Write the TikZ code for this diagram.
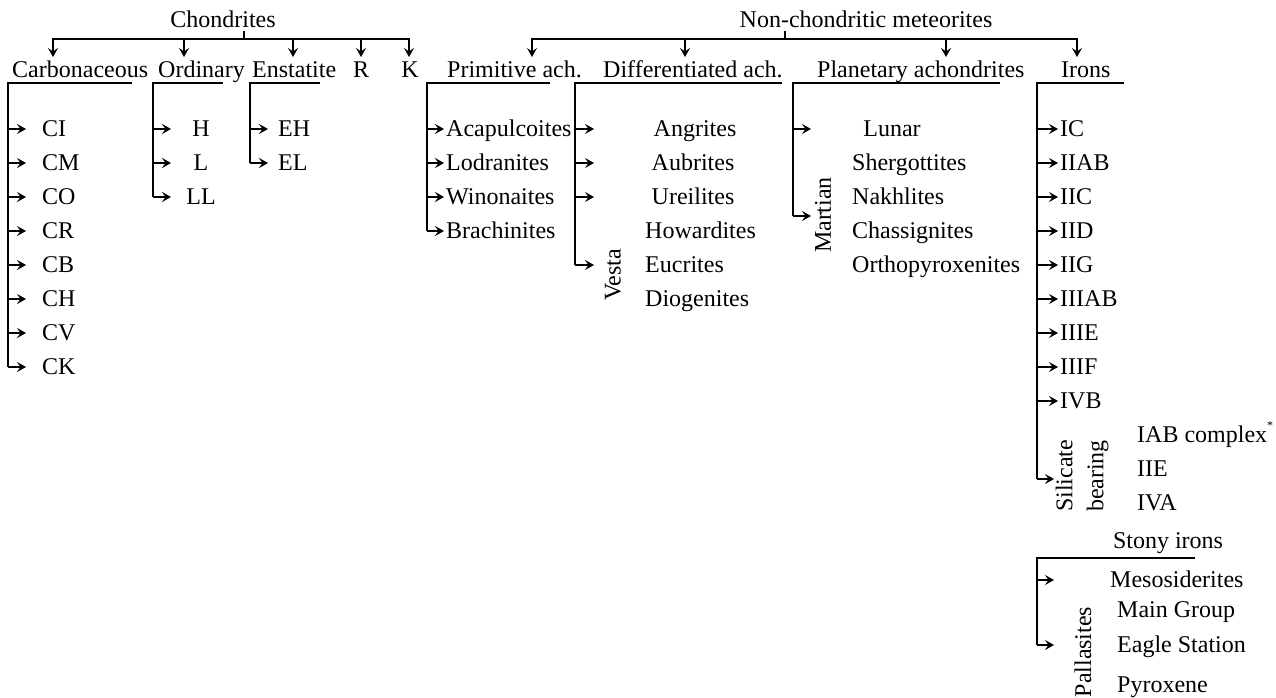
\documentclass[tikz,border=0pt]{standalone}
\usepackage{fontspec}
\setmainfont{Liberation Serif}
\usetikzlibrary{arrows.meta}
\begin{document}
\begin{tikzpicture}[x=1pt,y=-1pt,
  font=\fontsize{24}{31}\selectfont,
  lbl/.style={inner sep=0pt, anchor=base west},
  lblc/.style={inner sep=0pt, anchor=base},
  rot/.style={inner sep=0pt, rotate=90, align=center},
  ln/.style={line width=2.6pt, line join=miter},
  ul/.style={line width=2.2pt, line join=miter},
  arr/.style={line width=2.6pt, -{Stealth[length=9pt,width=10pt,inset=3.5pt]}}]
\useasboundingbox (0,0) rectangle (1276,698);

% ---------- top level ----------
\node[lblc] (chond) at (223,28) {Chondrites};
\coordinate (chb) at (244,39);
\draw[ln] (chb) ++(0,-8) -- (chb);
\draw[ln] (53,39) -- (409,39);
\foreach \x in {53,184,293,361,409} \draw[arr] (\x,38) -- (\x,57);

\node[lblc] (nonch) at (866,28) {Non-chondritic meteorites};
\coordinate (ncb) at (785,39);
\draw[ln] (ncb) ++(0,-8) -- (ncb);
\draw[ln] (532,39) -- (1077,39);
\foreach \x in {532,685,946,1077} \draw[arr] (\x,38) -- (\x,57);

% ---------- second level labels ----------
\node[lbl] (carb) at (12,78) {Carbonaceous};
\node[lbl] (ord) at (158,78) {Ordinary};
\node[lbl] (enst) at (252,78) {Enstatite};
\node[lblc] (R) at (361,78) {R};
\node[lblc] (K) at (410,78) {K};
\node[lbl] (prim) at (447,78) {Primitive ach.};
\node[lbl] (diff) at (603,78) {Differentiated ach.};
\node[lbl] (plan) at (817,78) {Planetary achondrites};
\node[lbl] (irons) at (1061,78) {Irons};

% ---------- Carbonaceous ----------
\draw[ul] (132,83) -- (8,83) -- (8,367);
\foreach \t/\y in {CI/129,CM/163,CO/197,CR/231,CB/265,CH/299,CV/333,CK/367} {
  \node[lbl] (c-\t) at (42,\y+7.5) {\t};
  \draw[arr] (8,\y) -- (26,\y);
}

% ---------- Ordinary ----------
\draw[ul] (223,83) -- (153,83) -- (153,197);
\foreach \t/\y in {H/129,L/163,LL/197} {
  \node[lblc] (o-\t) at (201,\y+7.5) {\t};
  \draw[arr] (153,\y) -- (171,\y);
}

% ---------- Enstatite ----------
\draw[ul] (320,83) -- (250,83) -- (250,163);
\foreach \t/\y in {EH/129,EL/163} {
  \node[lbl] (e-\t) at (278,\y+7.5) {\t};
  \draw[arr] (250,\y) -- (268,\y);
}

% ---------- Primitive achondrites ----------
\draw[ul] (550,83) -- (427,83) -- (427,231);
\foreach \t/\y in {Acapulcoites/129,Lodranites/163,Winonaites/197,Brachinites/231} {
  \node[lbl] (p-\t) at (446,\y+7.5) {\t};
  \draw[arr] (427,\y) -- (444,\y);
}

% ---------- Differentiated achondrites ----------
\draw[ul] (782,83) -- (575,83) -- (575,265);
\node[lblc] (angr) at (695,136.5) {Angrites};
\node[lblc] (aubr) at (693,170.5) {Aubrites};
\node[lblc] (ureil) at (693,204.5) {Ureilites};
\node[lbl] (howa) at (645,238.5) {Howardites};
\node[lbl] (eucr) at (645,272.5) {Eucrites};
\node[lbl] (diog) at (645,306.5) {Diogenites};
\node[rot] (vesta) at (613,275) {Vesta};
\foreach \y in {129,163,197,265} \draw[arr] (575,\y) -- (594,\y);

% ---------- Planetary achondrites ----------
\draw[ul] (1000,83) -- (793,83) -- (793,216);
\node[lblc] (lunar) at (892,136.5) {Lunar};
\node[lbl] (sherg) at (852,170.5) {Shergottites};
\node[lbl] (nakh) at (852,204.5) {Nakhlites};
\node[lbl] (chass) at (852,238.5) {Chassignites};
\node[lbl] (ortho) at (852,272.5) {Orthopyroxenites};
\node[rot] (martian) at (823,215) {Martian};
\foreach \y in {129,216} \draw[arr] (793,\y) -- (811,\y);

% ---------- Irons ----------
\draw[ul] (1124,83) -- (1037,83) -- (1037,479);
\foreach \t/\y in {IC/129,IIAB/163,IIC/197,IID/231,IIG/265,IIIAB/299,IIIE/333,IIIF/367,IVB/401} {
  \node[lbl] (i-\t) at (1060,\y+7.5) {\t};
  \draw[arr] (1037,\y) -- (1058,\y);
}
\draw[arr] (1037,479) -- (1054,479);
\node[rot] (silic) at (1082,476) {Silicate\\bearing};
\node[lbl] (iab) at (1137,442.5) {IAB complex\raisebox{1.2ex}{\fontsize{12}{12}\selectfont *}};
\node[lbl] (iie) at (1137,476.5) {IIE};
\node[lbl] (iva) at (1137,510.5) {IVA};

% ---------- Stony irons ----------
\node[lblc] (stony) at (1168,548) {Stony irons};
\draw[ul] (1195,558) -- (1037,558) -- (1037,645);
\foreach \y in {580,645} \draw[arr] (1037,\y) -- (1054,\y);
\node[lbl] (meso) at (1110,587.5) {Mesosiderites};
\node[lbl] (maing) at (1117,617.5) {Main Group};
\node[lbl] (eagle) at (1117,652.5) {Eagle Station};
\node[lbl] (pyrox) at (1117,692) {Pyroxene};
\node[rot] (palla) at (1083,652) {Pallasites};
\end{tikzpicture}
\end{document}
